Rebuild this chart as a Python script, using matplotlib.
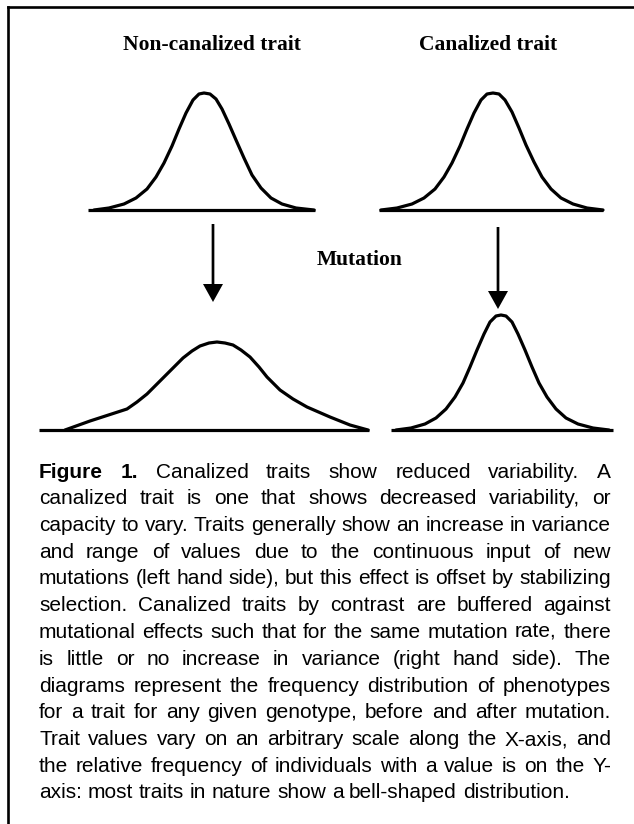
import matplotlib
matplotlib.use("Agg")
import matplotlib.pyplot as plt

# curve shapes: trait value offset (px) and relative frequency (px)
top_left_x = [-110, -95, -80, -68, -57, -48, -40, -32, -25, -18, -11, -5, 0, 6, 12, 18, 25, 32, 40, 48, 57, 67, 78, 92, 110]
top_left_y = [0, 2, 6, 12, 21, 33, 47, 64, 81, 97, 110, 116, 117, 116, 111, 101, 86, 70, 52, 35, 22, 12, 6, 2, 0]

top_right_x = [-112, -96, -81, -69, -58, -49, -41, -33, -26, -19, -12, -6, 0, 6, 12, 19, 26, 33, 41, 49, 58, 68, 80, 94, 110]
top_right_y = [0, 2, 6, 12, 21, 33, 47, 64, 81, 97, 110, 116, 117, 116, 110, 98, 82, 65, 48, 33, 21, 12, 6, 2, 0]

bottom_left_x = [-152, -127, -90, -80, -70, -60, -50, -42, -34, -25, -17, -8, 0, 8, 16, 24, 33, 42, 50, 63, 76, 90, 113, 133, 151]
bottom_left_y = [0, 9, 21, 28, 36, 46, 56, 64, 72, 79, 84, 87, 88, 87, 85, 80, 73, 63, 53, 40, 31, 23, 13, 5, 0]

bottom_right_x = [-105, -90, -76, -65, -55, -46, -38, -31, -24, -17, -11, -5, 0, 5, 11, 17, 24, 31, 38, 46, 55, 65, 77, 92, 108]
bottom_right_y = [0, 2, 6, 12, 21, 33, 47, 63, 80, 96, 108, 114, 115, 114, 108, 96, 80, 63, 47, 33, 21, 12, 6, 2, 0]

titles = ["Non-canalized trait", "Canalized trait"]
middle_label = "Mutation"

caption_lines = [
    "Figure 1. Canalized traits show reduced variability. A",
    "canalized trait is one that shows decreased variability, or",
    "capacity to vary. Traits generally show an increase in variance",
    "and range of values due to the continuous input of new",
    "mutations (left hand side), but this effect is offset by stabilizing",
    "selection. Canalized traits by contrast are buffered against",
    "mutational effects such that for the same mutation rate, there",
    "is little or no increase in variance (right hand side). The",
    "diagrams represent the frequency distribution of phenotypes",
    "for a trait for any given genotype, before and after mutation.",
    "Trait values vary on an arbitrary scale along the X-axis, and",
    "the relative frequency of individuals with a value is on the Y-",
    "axis: most traits in nature show a bell-shaped distribution.",
]
bold_words = ["Figure", "1."]

W, H = 634, 824
fig = plt.figure(figsize=(W / 100, H / 100), dpi=100)
ax = fig.add_axes([0, 0, 1, 1])
ax.set_xlim(0, W)
ax.set_ylim(H, 0)
ax.axis("off")

# frame (only top and left edges are inside the picture)
ax.plot([8, 8], [H, 7], color="black", lw=1.9, solid_capstyle="projecting")
ax.plot([8, W], [7, 7], color="black", lw=1.9, solid_capstyle="projecting")

lw = 2.3
# panel: (peak x, baseline y, baseline start, baseline end, xs, ys)
panels = [
    (204, 210, 88, 315, top_left_x, top_left_y),
    (493, 210, 379, 603, top_right_x, top_right_y),
    (217, 430, 39, 369, bottom_left_x, bottom_left_y),
    (501, 430, 391, 613, bottom_right_x, bottom_right_y),
]
for cx, base, x0, x1, xs, ys in panels:
    ax.plot([x0, x1], [base, base], color="black", lw=lw, solid_capstyle="butt")
    ax.plot([cx + v for v in xs], [base - v for v in ys], color="black", lw=lw,
            solid_joinstyle="round", solid_capstyle="round")

# arrows
for x, y0, y1 in [(213, 224, 302), (498, 227, 309)]:
    ax.arrow(x, y0, 0, y1 - y0, width=2.7, head_width=20, head_length=18,
             length_includes_head=True, fc="black", ec="black", lw=0)

serif = dict(family="Liberation Serif", weight="bold", fontsize=15.5, color="black")
ax.text(212, 45, titles[0], ha="center", va="center", **serif)
ax.text(488, 45, titles[1], ha="center", va="center", **serif)
ax.text(360, 260, middle_label, ha="center", va="center", **serif)

# justified caption
renderer = fig.canvas.get_renderer()
left, right = 39, 611
cap_family = "Liberation Sans"


def width_of(s, size, weight="normal"):
    t = ax.text(0, 0, s, family=cap_family, fontsize=size, weight=weight)
    w = t.get_window_extent(renderer).width
    t.remove()
    return w


# the third line is set without extra spacing in the original
base_size = 13
size = base_size * (right - left) / width_of(caption_lines[2], base_size)
space = width_of("a b", size) - width_of("ab", size)

y = 477.5
step = 26.75
for i, line in enumerate(caption_lines):
    words = line.split(" ")
    weights = []
    for k, wd in enumerate(words):
        weights.append("bold" if (i == 0 and k < len(bold_words) and wd == bold_words[k]) else "normal")
    fs = size
    widths = [width_of(wd, fs, wt) for wd, wt in zip(words, weights)]
    if i == len(caption_lines) - 1:
        gap = space
    else:
        gap = (right - left - sum(widths)) / (len(words) - 1)
        min_gap = 0.45 * space
        if gap < min_gap:
            # squeeze the line a little, as the typesetter did
            fs = size * (right - left - min_gap * (len(words) - 1)) / sum(widths)
            widths = [width_of(wd, fs, wt) for wd, wt in zip(words, weights)]
            gap = (right - left - sum(widths)) / (len(words) - 1)
    x = left
    for wd, wt, wdt in zip(words, weights, widths):
        ax.text(x, y + i * step, wd, family=cap_family, fontsize=fs, weight=wt,
                ha="left", va="baseline", color="black")
        x += wdt + gap

fig.savefig("out.png", dpi=100)
